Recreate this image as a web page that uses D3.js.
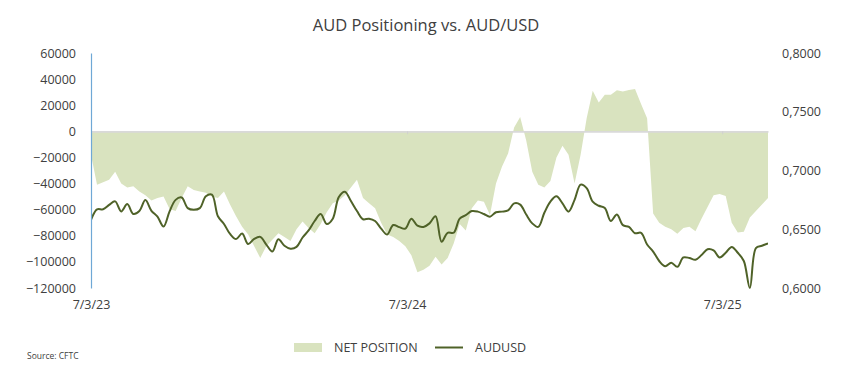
<!DOCTYPE html>
<html>
<head>
<meta charset="utf-8">
<script src="https://cdn.jsdelivr.net/npm/d3@7"></script>
<style>
  body { margin: 0; background: #fff; }
  text { font-family: "Open Sans", sans-serif; fill: #404040; }
</style>
</head>
<body>
<svg id="chart" width="861" height="386"></svg>
<script>
// weekly CFTC net positioning (contracts) and AUD/USD spot, starting 7 March 2023
var startDate = "2023-03-07";

var netPosition = [
  -18000, -41000, -39000, -37000, -31000, -40000, -43000, -42000, -46000, -49000,
  -53000, -51000, -50000, -59500, -61000, -51000, -42000, -45000, -46000, -47000,
  -50000, -51000, -46000, -56000, -65000, -73000, -79000, -88000, -97000, -88000,
  -83000, -78000, -81000, -84000, -75000, -69000, -74000, -78000, -71000, -62000,
  -55000, -53000, -49000, -43000, -37000, -51000, -55000, -59000, -70000, -79000,
  -81000, -84000, -88000, -95000, -108000, -106000, -103000, -96000, -102000, -97000,
  -86000, -71000, -76000, -59000, -53000, -54000, -64000, -40000, -27000, -17000,
  3000, 11000, -7000, -31000, -41000, -43000, -38000, -20000, -11000, -18000,
  -40000, -18000, 10000, 31000, 22000, 28000, 28000, 31500, 30500, 31700,
  32500, 21000, 10000, -63000, -70000, -73000, -75000, -78500, -74000, -73000,
  -76500, -67000, -58000, -49000, -48000, -49500, -70000, -77500, -77000, -66000,
  -61000, -56000, -51000
];

var audusd = [
  0.658, 0.667, 0.667, 0.6707, 0.6737, 0.6652, 0.6714, 0.663, 0.6655, 0.6748,
  0.6657, 0.6607, 0.6523, 0.6652, 0.675, 0.677, 0.668, 0.6666, 0.668, 0.678,
  0.6795, 0.661, 0.6545, 0.646, 0.6416, 0.6463, 0.6374, 0.6418, 0.6435, 0.637,
  0.631, 0.6415, 0.636, 0.6335, 0.635, 0.643, 0.649, 0.657, 0.663, 0.6545,
  0.659, 0.6775, 0.682, 0.674, 0.6655, 0.6585, 0.659, 0.657, 0.6505, 0.6455,
  0.6536, 0.6518, 0.6505, 0.659, 0.653, 0.652, 0.655, 0.661, 0.6394, 0.647,
  0.647, 0.659, 0.662, 0.6655, 0.665, 0.663, 0.6607, 0.6645, 0.665, 0.666,
  0.672, 0.671, 0.6625, 0.655, 0.652, 0.664, 0.6735, 0.678, 0.672, 0.665,
  0.675, 0.688, 0.685, 0.6735, 0.67, 0.668, 0.657, 0.6625, 0.6535, 0.652,
  0.6466, 0.647, 0.637, 0.631, 0.623, 0.6185, 0.6215, 0.618, 0.626, 0.6255,
  0.624, 0.628, 0.633, 0.632, 0.626, 0.630, 0.635, 0.630, 0.623, 0.600,
  0.634, 0.636, 0.638
];

var leftTicks = [60000, 40000, 20000, 0, -20000, -40000, -60000, -80000, -100000, -120000];
var rightTicks = [0.80, 0.75, 0.70, 0.65, 0.60];
var xTickDates = ["2023-03-07", "2024-03-07", "2025-03-07"];
var xTickLabels = ["7/3/23", "7/3/24", "7/3/25"];

var areaColor = "#d9e3bf",
    lineColor = "#4f6228";

var svg = d3.select("#chart");
var parse = d3.utcParse("%Y-%m-%d");
var start = parse(startDate);
var dates = netPosition.map(function(d, i) { return d3.utcDay.offset(start, 7 * i); });

var plot = {left: 91, right: 768, top: 53, bottom: 288};

var x = d3.scaleUtc()
    .domain([dates[0], dates[dates.length - 1]])
    .range([plot.left, plot.right]);
var yLeft = d3.scaleLinear().domain([-120000, 60000]).range([plot.bottom, plot.top]);
var yRight = d3.scaleLinear().domain([0.6, 0.8]).range([plot.bottom, plot.top]);

svg.append("defs").append("clipPath").attr("id", "plotclip")
  .append("rect")
    .attr("x", plot.left).attr("y", plot.top)
    .attr("width", plot.right - plot.left).attr("height", plot.bottom - plot.top + 1);

// title
svg.append("text")
    .attr("x", 426).attr("y", 31)
    .attr("text-anchor", "middle")
    .style("font-size", "16.5px")
    .text("AUD Positioning vs. AUD/USD");

// net position area
var area = d3.area()
    .x(function(d, i) { return x(dates[i]); })
    .y0(yLeft(0))
    .y1(function(d) { return yLeft(d); });

svg.append("path")
    .datum(netPosition)
    .attr("fill", areaColor)
    .attr("d", area);

// zero axis with small ticks
var zeroAxis = svg.append("g")
    .attr("transform", "translate(0," + yLeft(0) + ")")
    .call(d3.axisBottom(x)
      .tickValues(xTickDates.map(parse))
      .tickSizeInner(3).tickSizeOuter(0)
      .tickFormat(""));
zeroAxis.select(".domain").attr("stroke", "#d9d9d9").attr("stroke-width", 1.6);
zeroAxis.selectAll(".tick line").attr("stroke", "#d0d0d0");

// date labels at the bottom
var xAxis = svg.append("g")
    .attr("transform", "translate(0," + plot.bottom + ")")
    .call(d3.axisBottom(x)
      .tickValues(xTickDates.map(parse))
      .tickSize(0).tickPadding(12)
      .tickFormat(function(d, i) { return xTickLabels[i]; }));
xAxis.select(".domain").remove();

// AUDUSD line
var line = d3.line()
    .x(function(d, i) { return x(dates[i]); })
    .y(function(d) { return yRight(d); })
    .curve(d3.curveCatmullRom.alpha(0.5));

svg.append("path")
    .datum(audusd)
    .attr("clip-path", "url(#plotclip)")
    .attr("fill", "none")
    .attr("stroke", lineColor)
    .attr("stroke-width", 2)
    .attr("d", line);

// left axis
var leftAxis = svg.append("g")
    .attr("transform", "translate(" + plot.left + ",0)")
    .call(d3.axisLeft(yLeft)
      .tickValues(leftTicks)
      .tickSizeInner(0).tickSizeOuter(0).tickPadding(15)
      .tickFormat(d3.format("d")));
leftAxis.select(".domain").attr("stroke", "#6fa8d6").attr("stroke-width", 1.2);

// right axis
var commaFmt = function(d) { return d3.format(".4f")(d).replace(".", ","); };
var rightAxis = svg.append("g")
    .attr("transform", "translate(" + plot.right + ",0)")
    .call(d3.axisRight(yRight)
      .tickValues(rightTicks)
      .tickSize(0).tickPadding(14)
      .tickFormat(commaFmt));
rightAxis.select(".domain").remove();

svg.selectAll(".tick text")
    .style("font-size", "12.5px")
    .style("font-family", "'Open Sans', sans-serif")
    .attr("fill", "#404040");

// legend
var legend = svg.append("g").attr("transform", "translate(294,343)");
legend.append("rect")
    .attr("width", 28).attr("height", 9)
    .attr("fill", areaColor);
legend.append("text")
    .attr("x", 40).attr("y", 9)
    .style("font-size", "12.5px")
    .text("NET POSITION");
legend.append("line")
    .attr("x1", 141).attr("x2", 169)
    .attr("y1", 4.5).attr("y2", 4.5)
    .attr("stroke", lineColor).attr("stroke-width", 2);
legend.append("text")
    .attr("x", 181).attr("y", 9)
    .style("font-size", "12.5px")
    .text("AUDUSD");

// source
svg.append("text")
    .attr("x", 27).attr("y", 359)
    .style("font-size", "8.5px")
    .text("Source: CFTC");
</script>
</body>
</html>
